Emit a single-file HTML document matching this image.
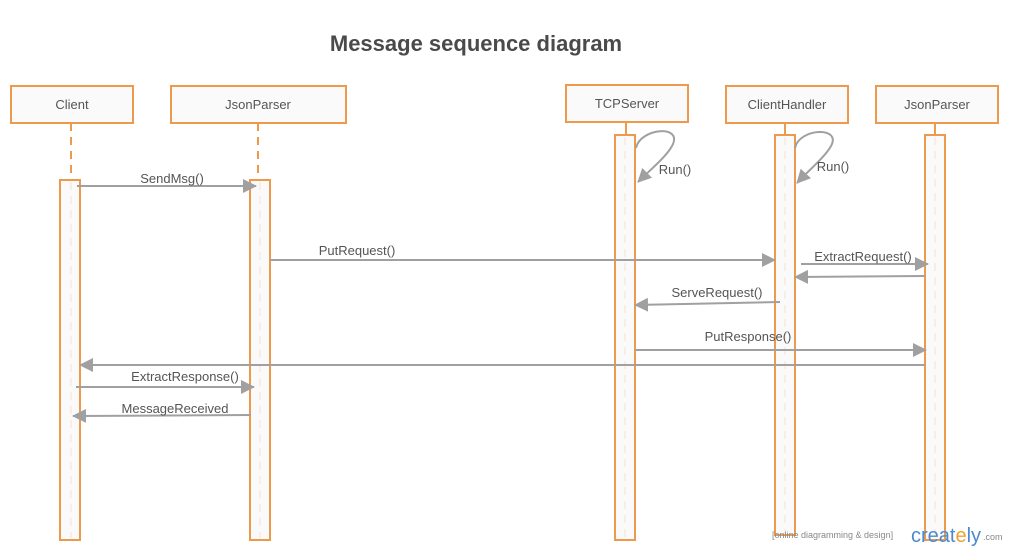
<!DOCTYPE html>
<html><head><style>
body{margin:0;background:#fff;}
svg{display:block;font-family:"Liberation Sans",sans-serif;}
</style></head><body>
<svg width="1010" height="550" viewBox="0 0 1010 550" xmlns="http://www.w3.org/2000/svg">
<defs>
<marker id="a" markerWidth="14" markerHeight="14" refX="13" refY="7" orient="auto" markerUnits="userSpaceOnUse">
<path d="M0,0 L14,7 L0,14 z" fill="#a0a0a0"/></marker>
</defs>
<text x="476" y="51" text-anchor="middle" font-size="22" font-weight="bold" fill="#4a4a4a">Message sequence diagram</text>
<g fill="#fafafa" stroke="#ee9a4d" stroke-width="2">
<rect x="11" y="86" width="122" height="37"/>
<rect x="171" y="86" width="175" height="37"/>
<rect x="566" y="85" width="122" height="37"/>
<rect x="726" y="86" width="122" height="37"/>
<rect x="876" y="86" width="122" height="37"/>
</g>
<g font-size="13" fill="#555" text-anchor="middle">
<text x="72" y="109">Client</text>
<text x="258" y="109">JsonParser</text>
<text x="627" y="108">TCPServer</text>
<text x="787" y="109">ClientHandler</text>
<text x="937" y="109">JsonParser</text>
</g>
<g stroke="#ee9a4d" stroke-width="2" stroke-dasharray="8,6">
<line x1="71" y1="123" x2="71" y2="180"/>
<line x1="258" y1="123" x2="258" y2="180"/>
</g>
<g stroke="#ee9a4d" stroke-width="2">
<line x1="626" y1="122" x2="626" y2="135"/>
<line x1="785" y1="123" x2="785" y2="135"/>
<line x1="935" y1="123" x2="935" y2="135"/>
</g>
<g fill="#fafafa" stroke="#ee9a4d" stroke-width="2">
<rect x="60" y="180" width="20" height="360"/>
<rect x="250" y="180" width="20" height="360"/>
<rect x="615" y="135" width="20" height="405"/>
<rect x="775" y="135" width="20" height="400"/>
<rect x="925" y="135" width="20" height="405"/>
</g>
<g stroke="#fbe3cf" stroke-width="1" stroke-dasharray="8,6">
<line x1="71" y1="182" x2="71" y2="538"/>
<line x1="260" y1="182" x2="260" y2="538"/>
<line x1="625" y1="137" x2="625" y2="538"/>
<line x1="785" y1="137" x2="785" y2="533"/>
<line x1="935" y1="137" x2="935" y2="538"/>
</g>
<g stroke="#a0a0a0" stroke-width="2" fill="none" marker-end="url(#a)">
<path d="M636,148 C640,128 684,124 672,146 C666,157 650,170 638,182"/>
<path d="M795,148 C799,128 842,126 831,146 C825,157 809,170 797,183"/>
<line x1="77" y1="186" x2="256" y2="186"/>
<line x1="270" y1="260" x2="775" y2="260"/>
<line x1="801" y1="264" x2="928" y2="264"/>
<line x1="925" y1="276" x2="795" y2="277"/>
<line x1="780" y1="302" x2="635" y2="305"/>
<line x1="635" y1="350" x2="926" y2="350"/>
<line x1="925" y1="365" x2="80" y2="365"/>
<line x1="76" y1="387" x2="254" y2="387"/>
<line x1="251" y1="415" x2="73" y2="416"/>
</g>
<g font-size="13" fill="#555" text-anchor="middle">
<text x="675" y="174">Run()</text>
<text x="833" y="171">Run()</text>
<text x="172" y="183">SendMsg()</text>
<text x="357" y="255">PutRequest()</text>
<text x="863" y="261">ExtractRequest()</text>
<text x="717" y="297">ServeRequest()</text>
<text x="748" y="341">PutResponse()</text>
<text x="185" y="381">ExtractResponse()</text>
<text x="175" y="413">MessageReceived</text>
</g>
<text x="772" y="538" font-size="9" fill="#888">[online diagramming &amp; design]</text>
<text x="911" y="542" font-size="20" fill="#4a8ad0">creat<tspan fill="#f0a030">e</tspan>ly</text>
<text x="983" y="540" font-size="9" fill="#888">.com</text>
</svg>
</body></html>
